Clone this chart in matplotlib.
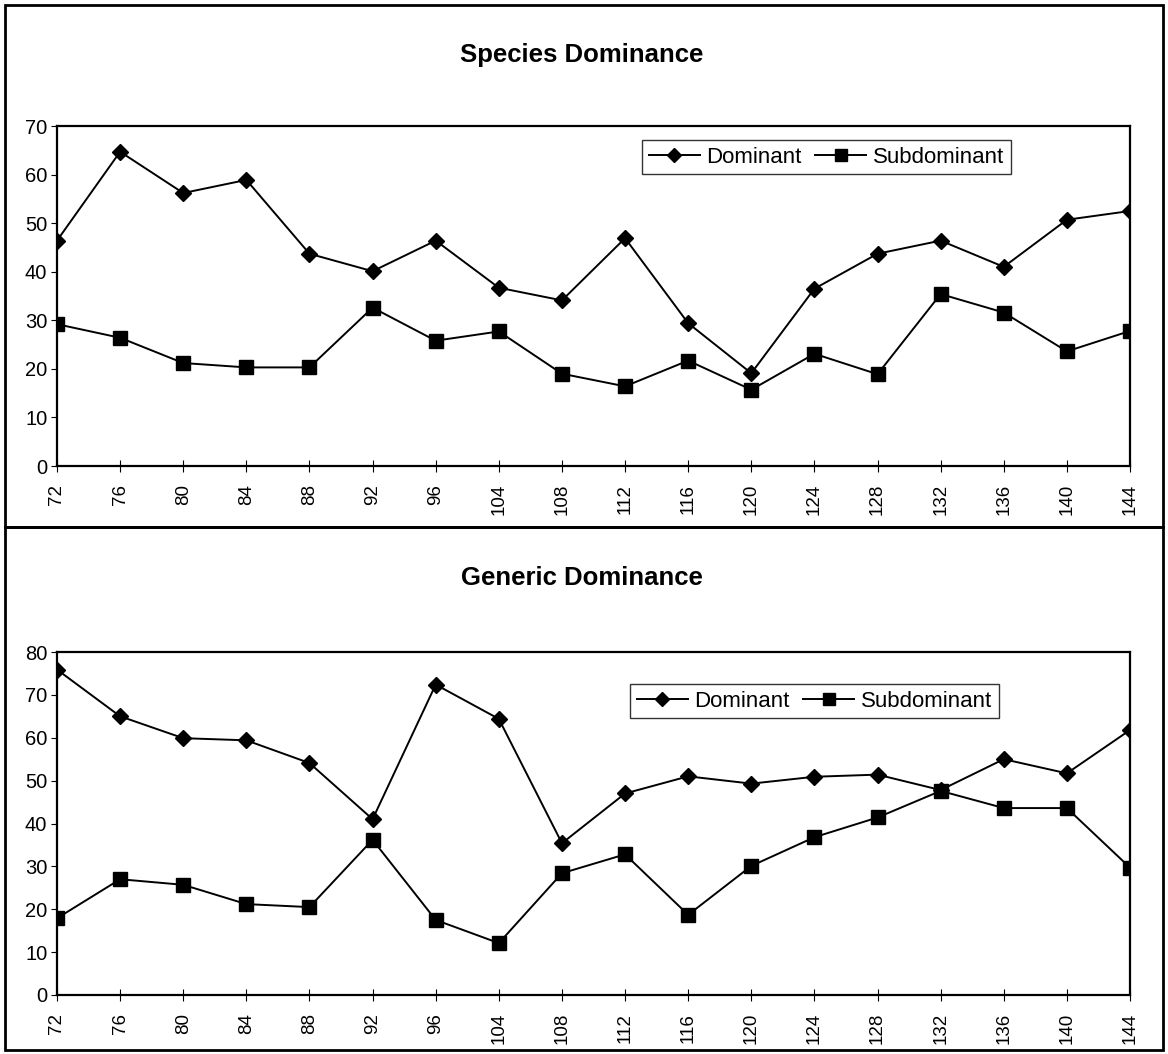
import matplotlib.pyplot as plt
from matplotlib.patches import Rectangle

plt.rcParams['font.family'] = ['Liberation Sans', 'DejaVu Sans']

weeks = ['72', '76', '80', '84', '88', '92', '96', '104', '108',
         '112', '116', '120', '124', '128', '132', '136', '140', '144']

species_dom = [46.4, 64.7, 56.2, 58.9, 43.7, 40.1, 46.4, 36.7, 34.1,
               46.9, 29.4, 19.1, 36.5, 43.7, 46.4, 41.0, 50.7, 52.5]
species_sub = [29.2, 26.4, 21.2, 20.3, 20.3, 32.6, 25.8, 27.7, 19.0,
               16.4, 21.7, 15.7, 23.1, 18.9, 35.4, 31.6, 23.6, 27.8]

generic_dom = [75.9, 65.0, 59.9, 59.4, 54.1, 41.0, 72.4, 64.4, 35.4,
               47.0, 51.0, 49.3, 50.9, 51.4, 47.8, 55.0, 51.7, 61.8]
generic_sub = [17.9, 27.0, 25.7, 21.2, 20.5, 36.2, 17.5, 12.1, 28.4,
               32.8, 18.7, 30.1, 36.8, 41.4, 47.6, 43.6, 43.6, 29.7]

W, H = 1168, 1054
fig = plt.figure(figsize=(W / 100, H / 100), dpi=100)


def fx(px):
    return px / W


def fy(py):
    return 1 - py / H


# outer panel boxes
for top, bot in [(5, 527), (527, 1050)]:
    fig.patches.append(Rectangle((fx(5), fy(bot)), fx(1163) - fx(5), fy(top) - fy(bot),
                                 transform=fig.transFigure, fill=False,
                                 edgecolor='black', linewidth=2))


def panel(rect, title, title_y, dom, sub, ymax, leg_anchor):
    left, top, right, bottom = rect
    ax = fig.add_axes([fx(left), fy(bottom), fx(right) - fx(left), fy(top) - fy(bottom)])
    x = list(range(len(weeks)))
    ax.plot(x, dom, color='black', lw=1.4, marker='D', ms=8, label='Dominant')
    ax.plot(x, sub, color='black', lw=1.4, marker='s', ms=10, label='Subdominant')
    ax.set_xlim(0, len(weeks) - 1)
    ax.set_ylim(0, ymax)
    ax.set_yticks(range(0, ymax + 1, 10))
    ax.set_xticks(x)
    ax.set_xticklabels(weeks, rotation=90, fontsize=13.5)
    ax.tick_params(axis='y', labelsize=14.5, direction='out', length=4, pad=3)
    ax.tick_params(axis='x', direction='inout', length=8, width=0.8, pad=9)
    for s in ax.spines.values():
        s.set_linewidth(1.6)
    fig.text(fx(582), fy(title_y), title, ha='center', va='center',
             fontsize=18.5, fontweight='bold')
    leg = ax.legend(loc='upper left', bbox_to_anchor=leg_anchor, ncol=2, fontsize=16,
                    frameon=True, fancybox=False, edgecolor='black', handlelength=2.3,
                    handletextpad=0.3, columnspacing=0.6, borderpad=0.3,
                    borderaxespad=0, markerscale=0.85)
    leg.get_frame().set_linewidth(1.0)
    return ax


panel((57, 126, 1130, 466), 'Species Dominance', 55, species_dom, species_sub, 70,
      ((642 - 57) / (1130 - 57), 1 - (140 - 126) / (466 - 126)))
panel((57, 652, 1130, 995), 'Generic Dominance', 578, generic_dom, generic_sub, 80,
      ((630 - 57) / (1130 - 57), 1 - (684 - 652) / (995 - 652)))

fig.savefig('out.png', dpi=100)
